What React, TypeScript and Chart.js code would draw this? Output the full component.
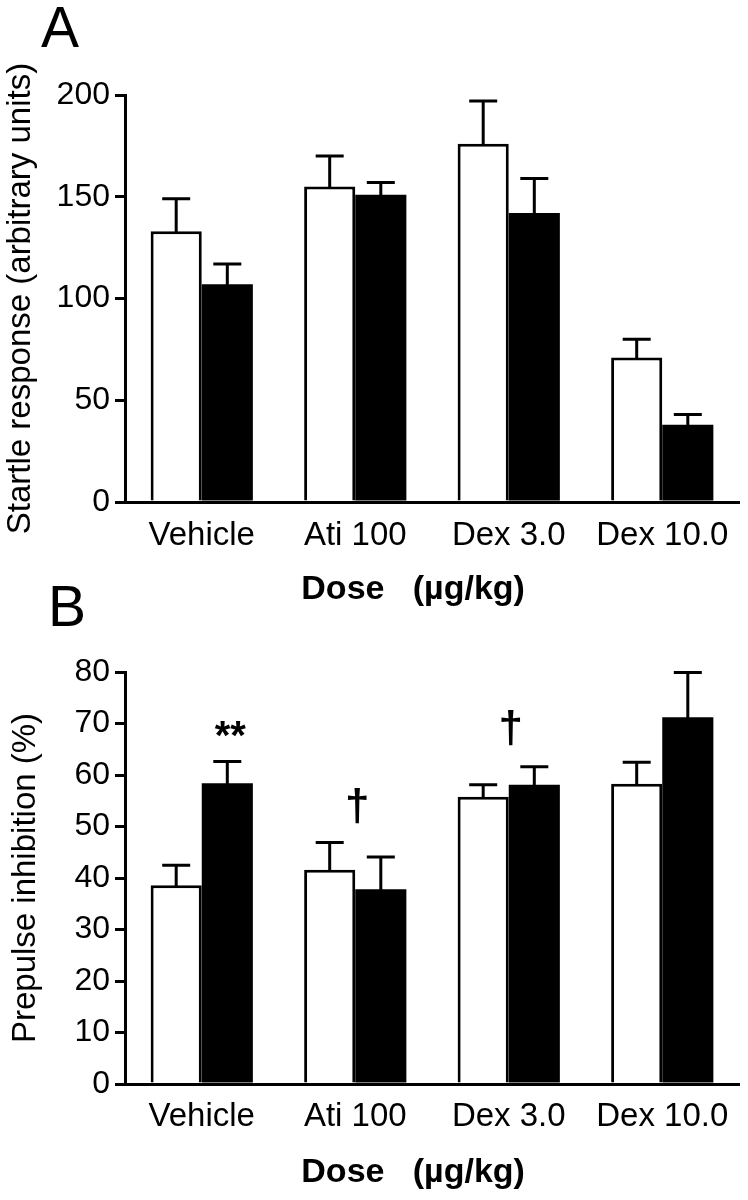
import React, { useEffect, useRef } from 'react';
import { Chart, registerables } from 'chart.js';

Chart.register(...registerables);

const FONT = "'Liberation Sans', Arial, Helvetica, sans-serif";

const categories = ['Vehicle', 'Ati 100', 'Dex 3.0', 'Dex 10.0'];

// Panel A: startle response (arbitrary units)
const startleWhite = [133, 155, 176, 71];
const startleWhiteSem = [16, 15, 21, 9];
const startleBlack = [107, 151, 142, 38];
const startleBlackSem = [10, 6, 17, 5];
const startleTicks = [0, 50, 100, 150, 200];

// Panel B: prepulse inhibition (%)
const ppiWhite = [38.6, 41.6, 55.8, 58.3];
const ppiWhiteSem = [3.9, 5.3, 2.3, 4.2];
const ppiBlack = [58.4, 37.8, 58.1, 71.2];
const ppiBlackSem = [4.2, 6.3, 3.5, 8.7];
const ppiTicks = [0, 10, 20, 30, 40, 50, 60, 70, 80];

// significance marks in panel B
const ppiMarkText = ['**', '\u2020', '\u2020'];
const ppiMarkCategory = [0, 1, 2];
const ppiMarkDataset = [1, -1, -1]; // -1 = centred on the group
const ppiMarkValue = [68.8, 53.6, 68.8];

const xTitle = 'Dose   (\u00b5g/kg)    ';

function errorBarPlugin(sems: number[][]) {
  return {
    id: 'errorBars',
    afterDatasetsDraw(chart: any) {
      const ctx = chart.ctx;
      const y = chart.scales.y;
      ctx.save();
      ctx.strokeStyle = '#000';
      ctx.lineWidth = 3;
      chart.data.datasets.forEach((ds: any, di: number) => {
        const meta = chart.getDatasetMeta(di);
        meta.data.forEach((bar: any, i: number) => {
          const top = y.getPixelForValue(ds.data[i] + sems[di][i]);
          ctx.beginPath();
          ctx.moveTo(bar.x, bar.y + 1);
          ctx.lineTo(bar.x, top);
          ctx.moveTo(bar.x - 14, top);
          ctx.lineTo(bar.x + 14, top);
          ctx.stroke();
        });
      });
      ctx.restore();
    },
  };
}

function panelLetterPlugin(letter: string, x: number, baseline: number) {
  return {
    id: 'panelLetter',
    afterDraw(chart: any) {
      const ctx = chart.ctx;
      ctx.save();
      ctx.fillStyle = '#000';
      ctx.font = `57px ${FONT}`;
      ctx.textAlign = 'left';
      ctx.textBaseline = 'alphabetic';
      ctx.fillText(letter, x, baseline);
      ctx.restore();
    },
  };
}

function marksPlugin() {
  return {
    id: 'marks',
    afterDatasetsDraw(chart: any) {
      const ctx = chart.ctx;
      const xs = chart.scales.x;
      const ys = chart.scales.y;
      ctx.save();
      ctx.fillStyle = '#000';
      ctx.textAlign = 'center';
      ctx.textBaseline = 'middle';
      ppiMarkText.forEach((t, k) => {
        const ci = ppiMarkCategory[k];
        const di = ppiMarkDataset[k];
        const x = di >= 0 ? chart.getDatasetMeta(di).data[ci].x + 3 : xs.getPixelForValue(ci) + 2;
        const y = ys.getPixelForValue(ppiMarkValue[k]);
        ctx.font = t === '**' ? `bold 40px ${FONT}` : `bold 44px ${FONT}`;
        ctx.fillText(t, x, t === '**' ? y + 8 : y);
      });
      ctx.restore();
    },
  };
}

function makeConfig(opts: {
  white: number[];
  black: number[];
  ticks: number[];
  max: number;
  yTitle: string;
  yTitlePad: number;
  padTop: number;
  xHeight: number;
  xTitlePad: number;
  xTickPad: number;
  plugins: any[];
}) {
  return {
    type: 'bar' as const,
    data: {
      labels: categories,
      datasets: [
        {
          label: 'white',
          data: opts.white,
          backgroundColor: '#ffffff',
          borderColor: '#000000',
          borderWidth: 3,
          barPercentage: 1,
          categoryPercentage: 0.666,
        },
        {
          label: 'black',
          data: opts.black,
          backgroundColor: '#000000',
          borderColor: '#000000',
          borderWidth: 0,
          barPercentage: 1,
          categoryPercentage: 0.666,
        },
      ],
    },
    options: {
      responsive: false,
      animation: false as const,
      devicePixelRatio: 1,
      layout: { padding: { top: opts.padTop, left: 0, right: 9, bottom: 0 } },
      plugins: {
        legend: { display: false },
        tooltip: { enabled: false },
      },
      scales: {
        x: {
          grid: { display: false, drawTicks: false },
          border: { display: true, color: '#000', width: 3 },
          ticks: {
            color: '#000',
            font: { family: FONT, size: 33 },
            padding: opts.xTickPad,
            maxRotation: 0,
            autoSkip: false,
          },
          title: {
            display: true,
            text: xTitle,
            color: '#000',
            font: { family: FONT, size: 34, weight: 'bold' as const },
            padding: { top: 0, bottom: opts.xTitlePad },
          },
          afterFit: (s: any) => {
            s.height = opts.xHeight;
          },
        },
        y: {
          min: 0,
          max: opts.max,
          afterBuildTicks: (axis: any) => {
            axis.ticks = opts.ticks.map((v) => ({ value: v }));
          },
          grid: {
            drawOnChartArea: false,
            drawTicks: true,
            tickLength: 10,
            lineWidth: 3,
            color: '#000',
          },
          border: { display: true, color: '#000', width: 3 },
          ticks: {
            color: '#000',
            font: { family: FONT, size: 32 },
            padding: 5,
          },
          title: {
            display: true,
            text: opts.yTitle,
            color: '#000',
            font: { family: FONT, size: 33 },
            padding: { top: opts.yTitlePad, bottom: 0 },
          },
          afterFit: (s: any) => {
            s.width = 125;
          },
        },
      },
    },
    plugins: opts.plugins,
  };
}

export default function App() {
  const refA = useRef<HTMLCanvasElement | null>(null);
  const refB = useRef<HTMLCanvasElement | null>(null);

  useEffect(() => {
    const chartA = new Chart(
      refA.current as HTMLCanvasElement,
      makeConfig({
        white: startleWhite,
        black: startleBlack,
        ticks: startleTicks,
        max: 200,
        yTitle: 'Startle response (arbitrary units)',
        yTitlePad: 1,
        padTop: 95,
        xHeight: 118,
        xTitlePad: 10,
        xTickPad: 14,
        plugins: [errorBarPlugin([startleWhiteSem, startleBlackSem]), panelLetterPlugin('A', 41, 47)],
      }) as any
    );
    const chartB = new Chart(
      refB.current as HTMLCanvasElement,
      makeConfig({
        white: ppiWhite,
        black: ppiBlack,
        ticks: ppiTicks,
        max: 80,
        yTitle: 'Prepulse inhibition (%)',
        yTitlePad: 6,
        padTop: 92,
        xHeight: 116,
        xTitlePad: 7,
        xTickPad: 13,
        plugins: [
          errorBarPlugin([ppiWhiteSem, ppiBlackSem]),
          marksPlugin(),
          panelLetterPlugin('B', 48, 46),
        ],
      }) as any
    );
    return () => {
      chartA.destroy();
      chartB.destroy();
    };
  }, []);

  return (
    <div
      style={{
        position: 'absolute',
        left: 0,
        top: 0,
        width: 748,
        height: 1200,
        background: '#fff',
      }}
    >
      <canvas
        ref={refA}
        width={748}
        height={620}
        style={{ position: 'absolute', left: 0, top: 0 }}
      />
      <canvas
        ref={refB}
        width={748}
        height={620}
        style={{ position: 'absolute', left: 0, top: 580 }}
      />
    </div>
  );
}
